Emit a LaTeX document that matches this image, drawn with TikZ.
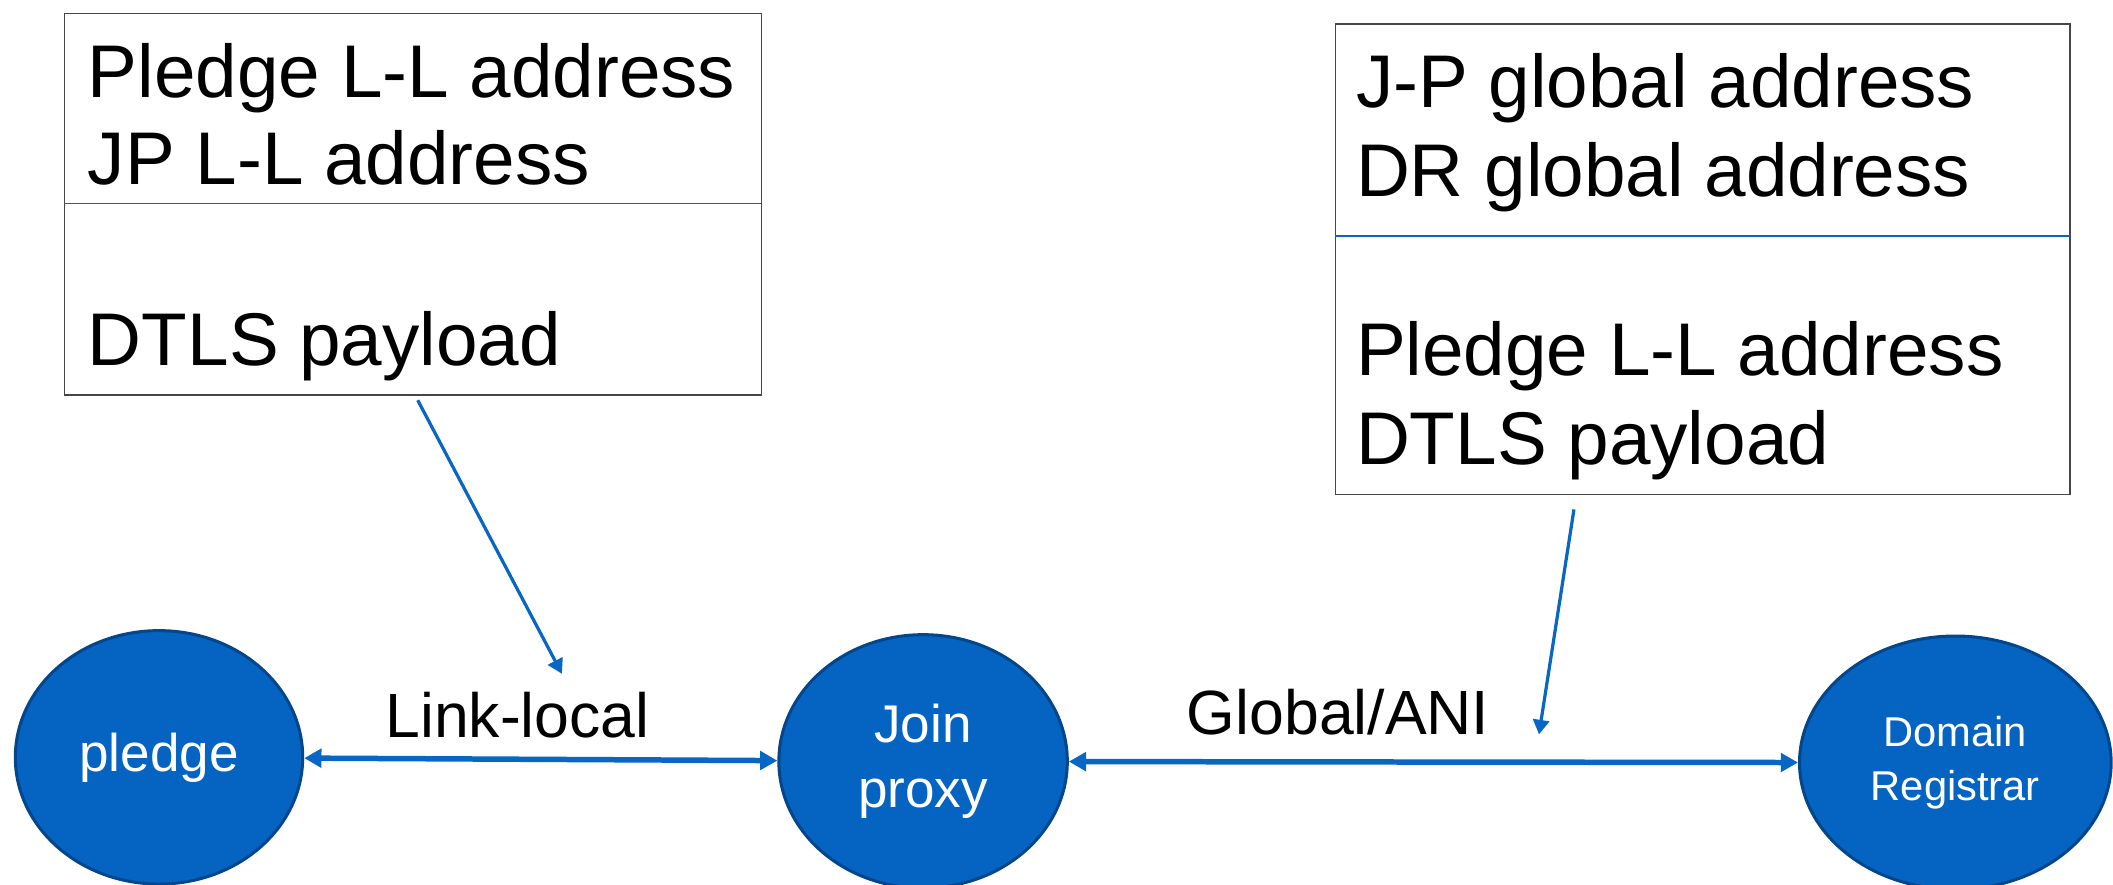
\documentclass[tikz,border=0pt]{standalone}
\usepackage{fontspec}
\setmainfont{Liberation Sans}
\usetikzlibrary{arrows.meta,shapes.geometric}
\definecolor{nodeblue}{RGB}{5,99,193}
\definecolor{rimblue}{RGB}{4,70,140}
\definecolor{lineblue}{RGB}{8,102,196}
\definecolor{boxgray}{RGB}{70,70,70}

\begin{document}
\begin{tikzpicture}[x=0.025cm,y=-0.025cm,
		entity/.style={ellipse,draw=rimblue,line width=1.6pt,fill=nodeblue,text=white,
			inner sep=0pt,align=center,minimum height=4.7cm},
		boxtext/.style={anchor=base west,inner sep=0pt,font=\fontsize{39.4}{46}\selectfont},
		linktext/.style={anchor=base,inner sep=0pt,font=\fontsize{33}{40}\selectfont},
		link/.style={draw=lineblue,line width=2.9pt,{Triangle[length=0.32cm,width=0.34cm]}-{Triangle[length=0.32cm,width=0.34cm]}},
		pointer/.style={draw=lineblue,line width=1.7pt,-{Triangle[length=0.27cm,width=0.3cm]}}]
		\useasboundingbox (0,0) rectangle (1568,656);
		% packet on the link-local side
		\draw[boxgray,line width=0.8pt] (48,10) rectangle (565,293);
		\draw[lineblue,line width=1pt] (48,151) -- (565,151);
		\node[boxtext] (lbox1) at (65,72) {Pledge L-L address};
		\node[boxtext] (lbox2) at (65,137) {JP L-L address};
		\node[boxtext] (lbox3) at (65,271) {DTLS payload};
		% packet on the global side
		\draw[boxgray,line width=0.8pt] (991,18) rectangle (1536,367);
		\draw[lineblue,line width=1pt] (991,175) -- (1536,175);
		\node[boxtext] (rbox1) at (1006,80) {J-P global address};
		\node[boxtext] (rbox2) at (1006,146) {DR global address};
		\node[boxtext] (rbox3) at (1006,279) {Pledge L-L address};
		\node[boxtext] (rbox4) at (1006,345) {DTLS payload};
		% the three parties
		\node[entity,minimum width=5.33cm,font=\fontsize{28}{34}\selectfont] (pledge) at (118,562) {pledge};
		\node[entity,minimum width=5.35cm,font=\fontsize{28}{34}\selectfont] (join) at (685,565) {Join\\proxy};
		\node[entity,minimum width=5.78cm,font=\fontsize{22}{28}\selectfont] (registrar) at (1451,566) {Domain\\Registrar};
		\draw[link] (pledge) -- (join);
		\draw[link] (join) -- (registrar);
		\node[linktext] (ll) at (384,547) {Link-local};
		\node[linktext] (gl) at (993,545) {Global/ANI};
		% pointers from the packets
		\coordinate (ltail) at (310,297);
		\coordinate (lhead) at (417,500);
		\coordinate (rtail) at (1168,378);
		\coordinate (rhead) at (1142,545);
		\draw[pointer] (ltail) -- (lhead);
		\draw[pointer] (rtail) -- (rhead);
	\end{tikzpicture}
\end{document}
